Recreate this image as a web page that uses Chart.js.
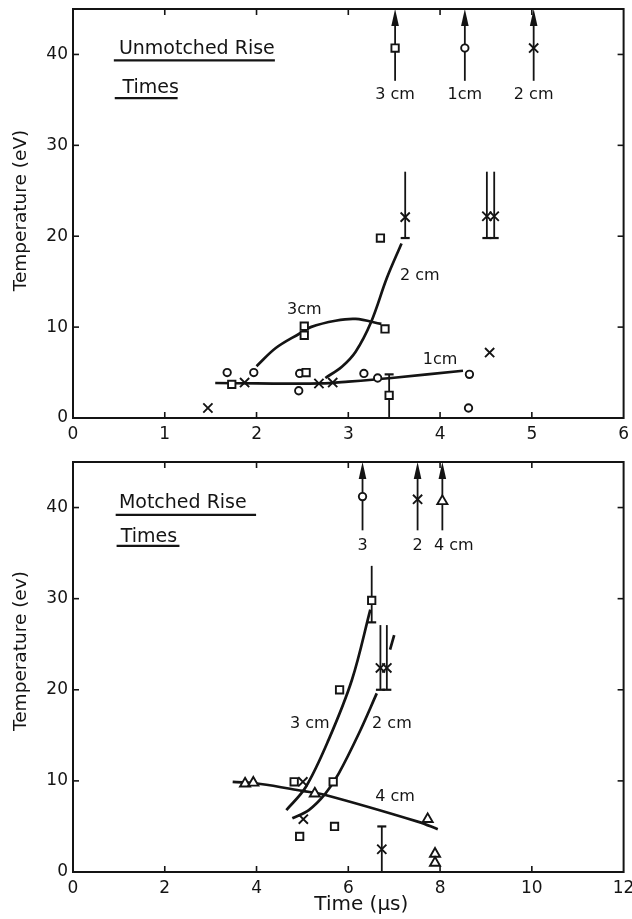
<!DOCTYPE html>
<html><head><meta charset="utf-8">
<script src="https://cdn.jsdelivr.net/npm/chart.js@4.4.1/dist/chart.umd.min.js"></script>
<style>
html,body{margin:0;padding:0;background:#fff;}
#wrap{position:relative;width:632px;height:919px;overflow:hidden;}
.box{position:absolute;left:0;width:632px;}
</style></head>
<body>
<div id="wrap">
  <div class="box" style="top:0;height:445px"><canvas id="c1"></canvas></div>
  <div class="box" style="top:445px;height:474px"><canvas id="c2"></canvas></div>
</div>
<script>
// ---------------- DATA ----------------
// Top panel: Unmatched rise times; x = time (us), y = temperature (eV)
const topXTicks = [0, 1, 2, 3, 4, 5, 6];
const topYTicks = [0, 10, 20, 30, 40];
const topSquares3cm = [[1.73,3.7],[2.52,10.1],[2.52,9.1],[2.54,5.0],[3.35,19.8],[3.40,9.8],[3.445,2.5],[3.51,40.7]];
const topCircles1cm = [[1.68,5.0],[1.97,5.0],[2.47,4.9],[2.46,3.0],[3.17,4.9],[3.32,4.4],[4.32,4.8],[4.31,1.1],[4.27,40.7]];
const topCrosses2cm = [[1.47,1.1],[1.87,3.9],[2.68,3.8],[2.83,3.9],[3.62,22.1],[4.51,22.2],[4.59,22.2],[4.54,7.2],[5.02,40.7]];
const topCurve1cm = [[1.55,3.85],[2.0,3.8],[2.7,3.8],[3.0,4.0],[3.47,4.4],[4.25,5.2]];
const topCurve3cm = [[2.0,5.7],[2.21,7.7],[2.47,9.3],[2.59,10.0],[2.86,10.7],[3.08,10.9],[3.36,10.35]];
const topCurve2cm = [[2.75,4.4],[2.93,5.65],[3.08,7.3],[3.25,10.6],[3.42,15.4],[3.58,19.2]];
// error bars: [x, low, high, cap at low, cap at high]
const topErrorBars = [[3.445,0,4.8,false,true],[3.62,19.8,27.1,true,false],[4.51,19.8,27.1,true,false],[4.59,19.8,27.1,true,false]];
// off-scale arrows (value above the axis)
const topArrowX = [3.51, 4.27, 5.02];
const topArrowFrom = 37.1;
const topLabels = [["3cm",2.52,11.9],["2 cm",3.78,15.6],["1cm",4.0,6.4],["3 cm",3.51,35.6],["1cm",4.27,35.6],["2 cm",5.02,35.6]];
const topTitle = ["Unmotched Rise","Times"];

// Bottom panel: Matched rise times
const botXTicks = [0, 2, 4, 6, 8, 10, 12];
const botYTicks = [0, 10, 20, 30, 40];
const botSquares3cm = [[6.51,29.8],[5.81,20.0],[5.67,9.9],[4.82,9.9],[4.94,3.9],[5.70,5.0]];
const botCircles = [[6.31,41.2]];
const botCrosses2cm = [[6.70,22.4],[6.84,22.4],[5.01,9.9],[5.02,5.8],[6.73,2.5],[7.51,40.9]];
const botTriangles4cm = [[3.75,9.7],[3.93,9.8],[5.27,8.6],[7.73,5.8],[7.89,2.0],[7.89,1.0],[8.05,40.7]];
const botCurve3cm = [[4.65,6.8],[5.07,9.3],[5.57,14.5],[6.08,21.1],[6.48,28.8]];
const botCurve2cm = [[4.78,5.9],[5.14,6.8],[5.50,8.6],[5.79,10.8],[6.23,15.2],[6.62,19.6]];
const botCurve2cmTop = [[6.91,24.4],[7.0,26.0]];
const botCurve4cm = [[3.48,9.9],[4.09,9.66],[5.0,8.9],[5.5,8.45],[7.53,5.5],[7.95,4.7]];
const botErrorBars = [[6.51,27.4,33.6,true,false],[6.70,20.0,27.1,true,false],[6.84,20.0,27.1,true,false],[6.73,0,5.0,false,true]];
const botArrowX = [6.31, 7.51, 8.05];
const botArrowFrom = 37.5;
const botLabels = [["3 cm",5.16,16.3],["2 cm",6.95,16.3],["4 cm",7.02,8.3],["3",6.31,35.8],["2",7.51,35.8],["4 cm",8.3,35.8]];
const botTitle = ["Motched Rise","Times"];

// ---------------- RENDERING ----------------
const INK = '#141414';
const FONT = '"DejaVu Sans", sans-serif';
const toXY = a => a.map(p => ({x:p[0], y:p[1]}));

const extras = {
  id: 'extras',
  beforeDatasetsDraw(chart, args, o) {
    const {ctx} = chart, X = chart.scales.x, Y = chart.scales.y;
    ctx.save();
    ctx.strokeStyle = INK; ctx.fillStyle = INK; ctx.lineWidth = 1.8;
    for (const [xv, lo, hi, cl, ch] of o.errorBars) {
      const px = X.getPixelForValue(xv);
      const y1 = Y.getPixelForValue(lo), y2 = Y.getPixelForValue(hi);
      ctx.beginPath(); ctx.moveTo(px, y1); ctx.lineTo(px, y2); ctx.stroke();
      ctx.lineWidth = 2.2;
      if (cl) { ctx.beginPath(); ctx.moveTo(px-4.5, y1); ctx.lineTo(px+4.5, y1); ctx.stroke(); }
      if (ch) { ctx.beginPath(); ctx.moveTo(px-4.5, y2); ctx.lineTo(px+4.5, y2); ctx.stroke(); }
      ctx.lineWidth = 1.8;
    }
    for (const xv of o.arrowX) {
      const px = X.getPixelForValue(xv);
      const yb = Y.getPixelForValue(o.arrowFrom), yt = chart.chartArea.top;
      ctx.beginPath(); ctx.moveTo(px, yb); ctx.lineTo(px, yt + 8); ctx.stroke();
      ctx.beginPath(); ctx.moveTo(px, yt); ctx.lineTo(px - 3.8, yt + 17); ctx.lineTo(px + 3.8, yt + 17); ctx.closePath(); ctx.fill();
    }
    ctx.restore();
  },
  afterDatasetsDraw(chart, args, o) {
    const {ctx, chartArea: ca} = chart, X = chart.scales.x, Y = chart.scales.y;
    ctx.save();
    ctx.strokeStyle = INK; ctx.fillStyle = INK;
    ctx.lineWidth = 2;
    ctx.strokeRect(ca.left, ca.top, ca.right - ca.left, ca.bottom - ca.top);
    ctx.lineWidth = 1.6;
    for (const t of X.ticks) {
      const px = X.getPixelForValue(t.value);
      if (px <= ca.left + 1 || px >= ca.right - 1) continue;
      ctx.beginPath(); ctx.moveTo(px, ca.bottom); ctx.lineTo(px, ca.bottom - 6); ctx.stroke();
      ctx.beginPath(); ctx.moveTo(px, ca.top); ctx.lineTo(px, ca.top + 6); ctx.stroke();
    }
    for (const t of Y.ticks) {
      const py = Y.getPixelForValue(t.value);
      if (py >= ca.bottom - 1 || py <= ca.top + 1) continue;
      ctx.beginPath(); ctx.moveTo(ca.left, py); ctx.lineTo(ca.left + 6, py); ctx.stroke();
      ctx.beginPath(); ctx.moveTo(ca.right, py); ctx.lineTo(ca.right - 6, py); ctx.stroke();
    }
    ctx.font = '16px ' + FONT; ctx.textAlign = 'center'; ctx.textBaseline = 'middle';
    for (const [txt, xv, yv] of o.labels) {
      ctx.fillText(txt, X.getPixelForValue(xv), Y.getPixelForValue(yv));
    }
    ctx.font = '19px ' + FONT; ctx.textAlign = 'left'; ctx.textBaseline = 'alphabetic';
    const tt = o.title;
    ctx.fillText(tt.lines[0], X.getPixelForValue(tt.x0), Y.getPixelForValue(tt.base0));
    ctx.fillText(tt.lines[1], X.getPixelForValue(tt.x1), Y.getPixelForValue(tt.base1));
    ctx.lineWidth = 2.2;
    ctx.beginPath();
    ctx.moveTo(X.getPixelForValue(tt.u0[0]), Y.getPixelForValue(tt.u0[2]));
    ctx.lineTo(X.getPixelForValue(tt.u0[1]), Y.getPixelForValue(tt.u0[2]));
    ctx.moveTo(X.getPixelForValue(tt.u1[0]), Y.getPixelForValue(tt.u1[2]));
    ctx.lineTo(X.getPixelForValue(tt.u1[1]), Y.getPixelForValue(tt.u1[2]));
    ctx.stroke();
    ctx.save();
    ctx.font = '18.5px ' + FONT; ctx.textAlign = 'center'; ctx.textBaseline = 'middle';
    ctx.translate(21, (ca.top + ca.bottom) / 2 + o.yTitleShift);
    ctx.rotate(-Math.PI / 2);
    ctx.fillText(o.yTitle, 0, 0);
    ctx.restore();
    if (o.xTitle) {
      ctx.font = '20px ' + FONT; ctx.textAlign = 'center'; ctx.textBaseline = 'middle';
      ctx.fillText(o.xTitle, (ca.left + ca.right) / 2 + 13, ca.bottom + 33);
    }
    ctx.restore();
  }
};

function marker(data, style, r) {
  return {type:'scatter', data: toXY(data), pointStyle: style, pointRadius: r, pointHoverRadius: r,
    borderColor: INK, backgroundColor: '#fff', pointBorderWidth: 1.9, borderWidth: 1.9, showLine: false, order: 0};
}
function curve(data) {
  return {type:'line', data: toXY(data), borderColor: INK, borderWidth: 2.7, pointRadius: 0,
    tension: 0.35, fill: false, order: 1};
}
function zeroPad(s) { s.paddingTop = 0; s.paddingBottom = 0; s.paddingLeft = 0; s.paddingRight = 0; }
function axes(xmax, xticks, yticks, xh) {
  const tickFont = {size: 17, family: FONT};
  return {
    x: {type:'linear', min:0, max:xmax,
      afterBuildTicks: s => { s.ticks = xticks.map(v => ({value: v})); },
      ticks: {color: INK, font: tickFont, padding: 6, maxRotation: 0, autoSkip: false},
      grid: {display: false, drawTicks: false, tickLength: 0}, border: {display: false},
      afterFit: s => { s.height = xh; zeroPad(s); }},
    y: {type:'linear', min:0, max:45,
      afterBuildTicks: s => { s.ticks = yticks.map(v => ({value: v})); },
      ticks: {color: INK, font: tickFont, padding: 5},
      grid: {display: false, drawTicks: false, tickLength: 0}, border: {display: false},
      afterFit: s => { s.width = 73; zeroPad(s); }}
  };
}

new Chart(document.getElementById('c1'), {
  type: 'scatter',
  data: {datasets: [
    marker(topSquares3cm, 'rect', 5.2),
    marker(topCircles1cm, 'circle', 3.7),
    marker(topCrosses2cm, 'crossRot', 6.5),
    curve(topCurve1cm), curve(topCurve3cm), curve(topCurve2cm)
  ]},
  options: {
    animation: false, responsive: true, maintainAspectRatio: false,
    layout: {padding: {top: 9, right: 6, left: 0, bottom: 0}},
    scales: axes(6, topXTicks, topYTicks, 27),
    plugins: {legend: {display: false}, tooltip: {enabled: false},
      extras: {errorBars: topErrorBars, arrowX: topArrowX, arrowFrom: topArrowFrom, labels: topLabels,
        title: {lines: topTitle, x0: 0.5, base0: 40.0, x1: 0.54, base1: 35.76,
          u0: [0.445, 2.2, 39.35], u1: [0.455, 1.14, 35.2]},
        yTitle: 'Temperature (eV)', yTitleShift: -3, xTitle: null}}
  },
  plugins: [extras]
});

new Chart(document.getElementById('c2'), {
  type: 'scatter',
  data: {datasets: [
    marker(botSquares3cm, 'rect', 5.2),
    marker(botCircles, 'circle', 3.7),
    marker(botCrosses2cm, 'crossRot', 6.5),
    marker(botTriangles4cm, 'triangle', 5.8),
    curve(botCurve3cm), curve(botCurve2cm), curve(botCurve2cmTop), curve(botCurve4cm)
  ]},
  options: {
    animation: false, responsive: true, maintainAspectRatio: false,
    layout: {padding: {top: 17, right: 6, left: 0, bottom: 0}},
    scales: axes(12, botXTicks, botYTicks, 47),
    plugins: {legend: {display: false}, tooltip: {enabled: false},
      extras: {errorBars: botErrorBars, arrowX: botArrowX, arrowFrom: botArrowFrom, labels: botLabels,
        title: {lines: botTitle, x0: 1.0, base0: 39.9, x1: 1.04, base1: 36.2,
          u0: [0.93, 3.99, 39.2], u1: [0.95, 2.32, 35.8]},
        yTitle: 'Temperature (ev)', yTitleShift: -16, xTitle: 'Time (\u03bcs)'}}
  },
  plugins: [extras]
});
</script>
</body></html>
